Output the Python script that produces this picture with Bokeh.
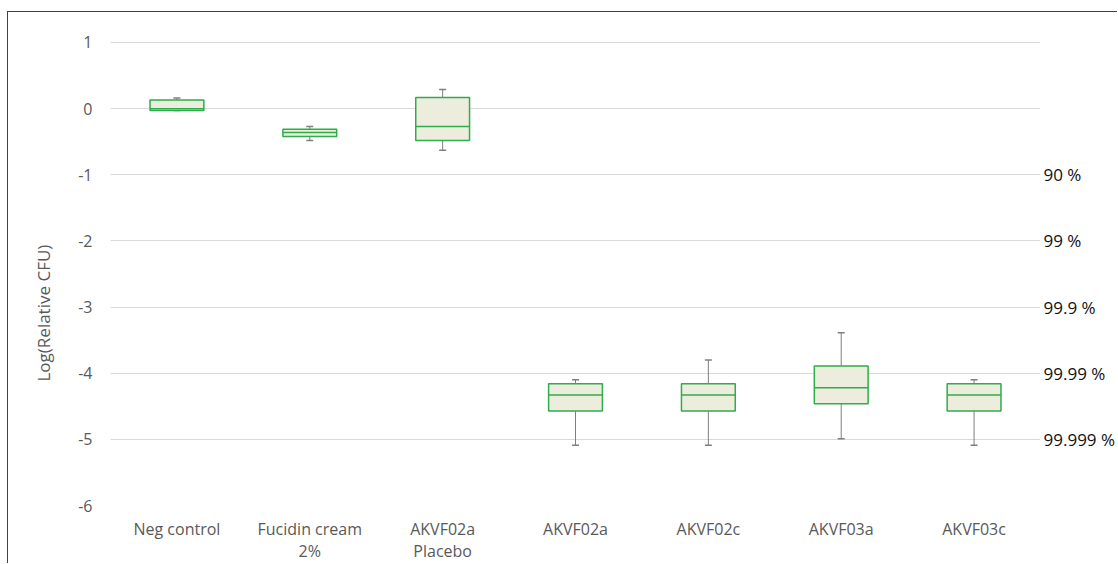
from bokeh.embed import file_html
from bokeh.models import ColumnDataSource, FixedTicker, LinearAxis, Range1d, Title
from bokeh.plotting import figure
from bokeh.resources import INLINE
from bokeh.transform import dodge

# Treatment groups and box-plot statistics (log of relative CFU)
groups = ["Neg control", "Fucidin cream\n2%", "AKVF02a\nPlacebo",
          "AKVF02a", "AKVF02c", "AKVF03a", "AKVF03c"]
whisker_low = [-0.03, -0.48, -0.63, -5.09, -5.09, -4.99, -5.09]
q1 = [-0.03, -0.42, -0.48, -4.57, -4.57, -4.46, -4.57]
median = [0.00, -0.36, -0.27, -4.33, -4.33, -4.22, -4.33]
q3 = [0.13, -0.31, 0.17, -4.16, -4.16, -3.89, -4.16]
whisker_high = [0.16, -0.27, 0.29, -4.10, -3.80, -3.39, -4.10]

# Left axis ticks and right-hand reduction percentages
y_ticks = [1, 0, -1, -2, -3, -4, -5, -6]
reduction_levels = [-1, -2, -3, -4, -5]
reduction_labels = ["90 %", "99 %", "99.9 %", "99.99 %", "99.999 %"]

FONT = "Open Sans"
GREY_TEXT = "#595959"
BOX_FILL = "#EDEDDE"
BOX_LINE = "#2EAD4B"
WHISKER = "#7F7F7F"
BOX_WIDTH = 0.405

src = ColumnDataSource(dict(
    x=list(range(len(groups))),
    lo=whisker_low, q1=q1, med=median, q3=q3, hi=whisker_high,
))

p = figure(
    width=1110, height=552,
    x_range=Range1d(-0.5, 6.5), y_range=Range1d(-6.0, 1.151),
    output_backend="svg", toolbar_location=None,
    min_border_left=102, min_border_right=76,
    min_border_top=20, min_border_bottom=58,
)
p.styles = {
    "margin-left": "7px", "margin-top": "11px",
    "border-left": "1px solid #404040", "border-top": "1px solid #404040",
}
p.outline_line_color = None
p.background_fill_color = "white"
p.border_fill_color = "white"

# whiskers
p.segment(x0="x", y0="lo", x1="x", y1="q1", source=src, line_color=WHISKER, line_width=1)
p.segment(x0="x", y0="q3", x1="x", y1="hi", source=src, line_color=WHISKER, line_width=1)
p.scatter(x="x", y="lo", source=src, marker="dash", size=7, line_color=WHISKER, line_width=1.5)
p.scatter(x="x", y="hi", source=src, marker="dash", size=7, line_color=WHISKER, line_width=1.5)

# boxes and medians
p.vbar(x="x", width=BOX_WIDTH, bottom="q1", top="q3", source=src,
       fill_color=BOX_FILL, line_color=BOX_LINE, line_width=1.5)
p.segment(x0=dodge("x", -BOX_WIDTH / 2), y0="med", x1=dodge("x", BOX_WIDTH / 2), y1="med",
          source=src, line_color=BOX_LINE, line_width=1.5)

# grid and axes
p.xgrid.grid_line_color = None
p.ygrid.ticker = FixedTicker(ticks=y_ticks)
p.ygrid.grid_line_color = "#D9D9D9"
p.ygrid.grid_line_width = 1

p.yaxis.ticker = FixedTicker(ticks=y_ticks)
p.yaxis.major_label_overrides = {t: str(t) for t in y_ticks}
p.xaxis.ticker = FixedTicker(ticks=list(range(len(groups))))
p.xaxis.major_label_overrides = {i: g for i, g in enumerate(groups)}
p.xaxis.major_label_text_line_height = 1.0

# reduction percentages on the right
pct_axis = LinearAxis(
    ticker=FixedTicker(ticks=reduction_levels),
    major_label_overrides={lv: lab for lv, lab in zip(reduction_levels, reduction_labels)},
)
p.add_layout(pct_axis, "right")

for ax in (p.xaxis[0], p.yaxis[0], pct_axis):
    ax.axis_line_color = None
    ax.major_tick_line_color = None
    ax.minor_tick_line_color = None
    ax.major_tick_out = 0
    ax.major_label_text_font = FONT
    ax.major_label_text_font_size = "16px"
    ax.major_label_text_color = GREY_TEXT
p.yaxis[0].major_label_standoff = 18
p.xaxis[0].major_label_standoff = 12
pct_axis.major_label_standoff = 3
pct_axis.major_label_text_font_size = "17px"
pct_axis.major_label_text_color = "#111111"

# vertical axis title, anchored from the bottom of the frame
p.add_layout(Title(
    text="Log(Relative CFU)", align="left", offset=124, standoff=42,
    text_font=FONT, text_font_size="17px", text_font_style="normal",
    text_color=GREY_TEXT,
), "left")

open("out.html", "w").write(file_html(p, INLINE))
